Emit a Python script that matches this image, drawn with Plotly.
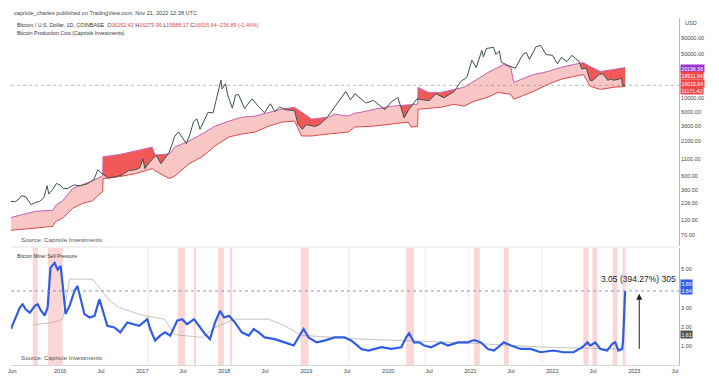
import plotly.graph_objects as go

# ---------------- data ----------------
price_dates = ['2015-05-27','2015-06-15','2015-07-01','2015-07-12','2015-08-01','2015-08-25','2015-09-15',
 '2015-10-01','2015-10-20','2015-11-04','2015-11-11','2015-12-01','2015-12-15','2016-01-01','2016-01-15',
 '2016-02-01','2016-03-01','2016-04-01','2016-05-01','2016-05-31','2016-06-17','2016-07-01','2016-08-02',
 '2016-09-01','2016-10-01','2016-11-01','2016-12-01','2016-12-20','2017-01-04','2017-01-12','2017-02-01',
 '2017-03-03','2017-03-25','2017-04-15','2017-05-01','2017-05-25','2017-06-11','2017-07-16','2017-08-01',
 '2017-08-17','2017-09-01','2017-09-15','2017-10-01','2017-10-20','2017-11-12','2017-12-01','2017-12-17',
 '2017-12-22','2018-01-06','2018-01-17','2018-02-06','2018-02-20','2018-03-05','2018-04-01','2018-05-05',
 '2018-06-01','2018-06-29','2018-07-25','2018-08-14','2018-09-05','2018-10-01','2018-11-10','2018-11-25',
 '2018-12-15','2019-01-01','2019-02-08','2019-03-01','2019-04-02','2019-05-14','2019-06-26','2019-07-17',
 '2019-08-06','2019-09-25','2019-10-26','2019-12-17','2020-01-15','2020-02-13','2020-03-12','2020-04-01',
 '2020-05-08','2020-06-01','2020-07-01','2020-08-01','2020-09-05','2020-10-21','2020-11-20','2020-12-16',
 '2021-01-08','2021-01-27','2021-02-21','2021-02-28','2021-03-13','2021-04-14','2021-04-25','2021-05-10',
 '2021-05-19','2021-06-22','2021-07-20','2021-08-23','2021-09-07','2021-09-21','2021-10-20','2021-11-10',
 '2021-12-04','2022-01-02','2022-01-24','2022-02-10','2022-03-07','2022-03-29','2022-04-30','2022-05-12',
 '2022-06-01','2022-06-18','2022-07-01','2022-07-30','2022-08-14','2022-09-06','2022-09-13','2022-10-01',
 '2022-10-25','2022-11-05','2022-11-09','2022-11-21']
price = [237,235,258,292,280,210,230,237,270,420,310,375,455,430,380,375,430,420,450,530,750,670,550,
 575,615,730,750,800,1120,780,970,1270,930,1180,1420,2500,2950,1930,2720,4300,4750,3250,4350,6000,5900,
 10900,19300,14000,17000,11000,7000,11200,11500,6900,9800,7500,5900,8200,6200,7300,6600,6400,3900,3250,
 3850,3600,3850,4900,7900,12800,9500,11800,8400,9300,6650,8800,10300,4900,6600,9800,9500,9200,11800,
 10200,12800,18600,21300,40000,30400,57000,45000,61000,63500,49000,56000,37000,32500,29800,49500,52500,
 41000,65000,68000,49000,47500,35000,44000,38000,47500,38000,29000,30000,19000,19300,24000,24300,19000,
 20200,19300,20000,21000,16000,16015.64]

cost_dates = ['2015-05-27','2015-06-04','2015-09-15','2015-11-29','2015-12-12','2016-01-12','2016-02-25',
 '2016-04-10','2016-05-24','2016-07-08','2016-07-10','2016-09-21','2016-12-01','2017-02-14','2017-02-27',
 '2017-05-01','2017-05-27','2017-07-28','2017-09-24','2017-11-21','2018-01-22','2018-03-20','2018-05-17',
 '2018-07-18','2018-09-14','2018-11-10','2018-12-11','2019-01-25','2019-04-10','2019-05-07','2019-07-08',
 '2019-08-03','2019-09-03','2019-10-31','2020-01-15','2020-03-30','2020-04-12','2020-05-11','2020-05-13',
 '2020-06-27','2020-08-23','2020-10-20','2020-12-03','2021-01-17','2021-03-20','2021-05-03','2021-05-30',
 '2021-06-30','2021-07-13','2021-08-13','2021-10-10','2021-12-11','2022-02-06','2022-04-05','2022-05-19',
 '2022-06-19','2022-08-03','2022-09-29','2022-11-21']
cost_upper = [130,135,166,172,205,243,380,440,500,600,1200,1300,1500,1700,1280,1330,1710,2130,2740,3650,
 4370,5050,5240,6040,6730,7230,6040,4700,5050,5620,5240,5800,6040,6730,7500,7900,8060,8100,14900,12400,
 12400,13800,14900,18500,25500,30500,34000,30500,17800,19800,23700,26400,30500,34000,36500,31600,26400,
 28400,30500]
cost_lower = [82,84,90,96,115,129,184,221,243,340,543,583,650,778,720,543,600,930,1200,1780,2460,2740,
 2940,3650,4220,4370,2550,2550,2740,2800,2940,3520,3580,3650,3930,4220,3520,3600,6730,7000,7230,8060,
 7500,8980,10400,12400,12000,11550,9650,10700,12900,16500,19800,22000,23700,15400,13800,14900,15400]

msp_dates = ['2015-05-27','2015-06-04','2015-07-05','2015-07-18','2015-07-31','2015-08-19','2015-09-10',
 '2015-09-23','2015-10-07','2015-10-24','2015-11-06','2015-11-19','2015-12-07','2015-12-21','2016-01-03',
 '2016-01-12','2016-01-25','2016-02-12','2016-03-05','2016-03-18','2016-04-01','2016-04-18','2016-05-11',
 '2016-06-02','2016-06-24','2016-07-07','2016-07-29','2016-08-29','2016-09-25','2016-10-26','2016-11-26',
 '2016-12-18','2017-01-23','2017-02-05','2017-02-27','2017-03-21','2017-04-12','2017-05-05','2017-06-05',
 '2017-06-27','2017-07-19','2017-08-19','2017-09-10','2017-10-07','2017-10-29','2017-11-21','2017-12-13',
 '2017-12-31','2018-01-22','2018-02-17','2018-03-20','2018-04-20','2018-05-12','2018-06-03','2018-06-30',
 '2018-08-13','2018-09-27','2018-11-06','2018-12-02','2018-12-20','2019-01-11','2019-02-16','2019-03-23',
 '2019-05-07','2019-06-20','2019-07-21','2019-08-25','2019-09-03','2019-10-05','2019-12-01','2020-01-15',
 '2020-02-28','2020-03-21','2020-04-03','2020-04-25','2020-05-18','2020-06-09','2020-07-10','2020-08-23',
 '2020-09-23','2020-11-07','2020-12-21','2021-01-17','2021-02-17','2021-03-20','2021-04-16','2021-05-30',
 '2021-06-30','2021-08-13','2021-09-26','2021-11-10','2022-01-06','2022-02-19','2022-04-05','2022-05-15',
 '2022-06-06','2022-06-19','2022-07-11','2022-08-03','2022-09-02','2022-09-25','2022-10-08','2022-10-22',
 '2022-11-08','2022-11-12','2022-11-16','2022-11-21']
msp = [1.9,2.12,3.0,3.17,2.91,2.74,3.09,3.17,2.85,2.59,3.0,5.05,5.31,4.96,5.15,4.2,2.66,3.1,3.86,4.11,
 3.51,2.66,2.49,2.57,3.43,2.91,2.06,1.97,1.72,2.23,2.14,2.06,2.4,1.89,1.29,1.55,1.72,1.55,2.32,2.4,2.14,
 2.4,2.06,1.63,1.37,2.23,2.83,2.49,2.57,2.23,1.72,1.55,1.89,1.72,1.46,1.37,1.2,1.04,1.55,1.89,1.46,1.2,
 1.29,1.46,1.46,1.29,0.95,0.86,0.78,0.95,0.86,0.95,1.46,1.67,1.2,1.2,1.04,0.95,1.2,1.04,1.2,1.2,1.32,
 1.2,0.86,0.78,1.2,1.04,0.86,0.86,0.69,0.78,0.69,0.69,0.95,1.2,1.04,1.2,0.86,0.78,1.12,1.2,0.78,0.86,
 1.3,2.4,3.86]

msp_avg_dates = ['2015-09-01','2015-11-29','2016-01-12','2016-02-12','2016-05-24','2016-07-07','2016-08-08',
 '2016-09-21','2017-01-01','2017-04-10','2017-05-25','2017-09-24','2017-11-21','2018-02-17','2018-07-18',
 '2018-09-27','2018-12-11','2019-05-07','2019-08-24','2020-02-28','2021-01-09','2021-12-03','2022-11-05']
msp_avg = [2.11,2.23,2.4,4.47,4.47,3.86,3.36,3.0,2.6,2.4,1.6,1.46,1.97,2.4,2.4,2.06,1.56,1.46,1.37,1.3,
 1.15,0.95,0.85]

band_starts = ['2015-09-01','2015-11-07','2017-06-09','2017-08-19','2017-12-04','2018-01-26','2018-12-07',
 '2020-03-21','2021-01-17','2021-05-30','2022-05-19','2022-06-28','2022-09-26','2022-11-09']
band_ends = ['2015-09-23','2016-01-12','2017-07-11','2017-08-28','2017-12-30','2018-02-04','2019-01-11',
 '2020-04-25','2021-02-12','2021-06-21','2022-06-11','2022-07-20','2022-10-18','2022-11-23']
faint_band_starts = ['2017-01-23','2019-07-05','2020-06-10','2020-12-20','2021-11-14']
faint_band_ends = ['2017-02-01','2019-07-12','2020-06-16','2020-12-27','2021-11-20']

top_ticks = [70,120,226,360,600,1100,2100,3600,6000,10000,50000,90000]
bottom_ticks = [1,2,3,5]
x_tick_dates = ['2015-06-01','2016-01-01','2016-07-01','2017-01-01','2017-07-01','2018-01-01','2018-07-01',
 '2019-01-01','2019-07-01','2020-01-01','2020-07-01','2021-01-01','2021-07-01','2022-01-01','2022-07-01',
 '2023-01-01','2023-07-01']
x_tick_labels = ['Jun','2016','Jul','2017','Jul','2018','Jul','2019','Jul','2020','Jul','2021','Jul','2022',
 'Jul','2023','Jul']
top_last_values = ['20196.56','18911.94','16015.64','11171.42']
bottom_last_values = ['3.86','3.84','1.61']
msp_change_text = '3.05 (394.27%) 305'
measure_from, measure_to = 0.79, 3.72

# ---------------- figure ----------------
W, H = 719, 382
L, R, T, B = 8, 40, 18, 14
PW, PH = W - L - R, H - T - B
def px(xp): return (xp - L) / PW
def py(yp): return (H - B - yp) / PH

FONT = 'Liberation Sans, Arial, sans-serif'
fig = go.Figure()
common = dict(mode='lines', hoverinfo='skip', showlegend=False)
TOP = dict(xaxis='x', yaxis='y')
BOT = dict(xaxis='x2', yaxis='y2')

# pink production-cost band
fig.add_trace(go.Scatter(x=cost_dates, y=cost_lower, line=dict(width=0), **common, **TOP))
fig.add_trace(go.Scatter(x=cost_dates, y=cost_upper, line=dict(width=0), fill='tonexty',
                         fillcolor='#f9c6c6', **common, **TOP))
# red area where price is below cost
fig.add_trace(go.Scatter(x=cost_dates, y=cost_upper, line=dict(width=0), **common, **TOP))
fig.add_trace(go.Scatter(x=price_dates, y=price, line=dict(width=0), fill='tonexty',
                         fillcolor='#f25858', **common, **TOP))
# white cover above the cost
fig.add_trace(go.Scatter(x=cost_dates, y=cost_upper, line=dict(width=0), **common, **TOP))
fig.add_trace(go.Scatter(x=[cost_dates[0], cost_dates[-1]], y=[1e7, 1e7], line=dict(width=0),
                         fill='tonexty', fillcolor='white', **common, **TOP))
# current price line
fig.add_trace(go.Scatter(x=['2015-05-01', '2023-08-01'], y=[price[-1], price[-1]],
                         line=dict(width=1, color='rgba(150,150,150,0.7)', dash='dot'), **common, **TOP))
# cost lines and price
fig.add_trace(go.Scatter(x=cost_dates, y=cost_lower, line=dict(width=1, color='#e04848'), **common, **TOP))
fig.add_trace(go.Scatter(x=cost_dates, y=cost_upper, line=dict(width=1, color='#c264b4'), **common, **TOP))
fig.add_trace(go.Scatter(x=price_dates, y=price, line=dict(width=1, color='#3b5446'), **common, **TOP))

# bottom pane
fig.add_trace(go.Scatter(x=msp_avg_dates, y=msp_avg, line=dict(width=1, color='rgba(170,170,170,0.7)'),
                         **common, **BOT))
fig.add_trace(go.Scatter(x=msp_dates, y=msp, line=dict(width=2.2, color='#2f5de6'), **common, **BOT))

shapes = []
for s, e in zip(band_starts, band_ends):
    shapes.append(dict(type='rect', xref='x2', yref='y2 domain', x0=s, x1=e, y0=0, y1=1,
                       fillcolor='rgba(242,120,120,0.3)', line=dict(width=0), layer='below'))
for s, e in zip(faint_band_starts, faint_band_ends):
    shapes.append(dict(type='rect', xref='x2', yref='y2 domain', x0=s, x1=e, y0=0, y1=1,
                       fillcolor='rgba(242,120,120,0.13)', line=dict(width=0), layer='below'))
shapes.append(dict(type='line', xref='paper', yref='y2', x0=0, x1=1, y0=msp[-1], y1=msp[-1],
                   line=dict(color='#7d95dc', width=1, dash='dot')))
shapes.append(dict(type='line', xref='paper', yref='paper', x0=0, x1=1, y0=py(249), y1=py(249),
                   line=dict(color='#e2e2e2', width=1)))

ann = []
def txt(xp, yp, text, size=5.5, color='#333', anchor='left'):
    ann.append(dict(xref='paper', yref='paper', x=px(xp), y=py(yp), text=text, showarrow=False,
                    xanchor=anchor, yanchor='middle', font=dict(size=size, color=color, family=FONT)))

red = '#e0474c'
txt(9, 13, 'capriole_charles published on TradingView.com, Nov 21, 2022 12:38 UTC', 5.6, '#444')
txt(12, 25, "Bitcoin / U.S. Dollar, 1D, COINBASE  O<span style='color:%s'>16252.42</span> "
    "H<span style='color:%s'>16279.99</span> L<span style='color:%s'>15888.17</span> "
    "C<span style='color:%s'>16015.64</span> <span style='color:%s'>-236.89 (-1.46%%)</span>"
    % (red, red, red, red, red), 5.4, '#333')
txt(12, 33, 'Bitcoin Production Cost (Capriole Investments)', 5.2, '#333')
txt(16, 241, 'Source: Capriole Investments', 6.2, '#555')
txt(12, 258, 'Bitcoin Miner Sell Pressure', 5.0, '#333')
txt(16, 360, 'Source: Capriole Investments', 6.2, '#555')
txt(683, 23, 'USD', 5.5, '#444')

box_cols = ['#9a34cf', '#f04848', '#f04848', '#f04848']
for i, (v, c) in enumerate(zip(top_last_values, box_cols)):
    ann.append(dict(xref='paper', yref='paper', x=px(680), y=py(69 + 7.5 * i), text=v, showarrow=False,
                    xanchor='left', yanchor='middle', bgcolor=c, borderpad=0.5,
                    font=dict(size=5.2, color='white', family=FONT)))
for v, yp, c in zip(bottom_last_values, [286, 292.5, 337], ['#2f5de6', '#2f5de6', '#555555']):
    ann.append(dict(xref='paper', yref='paper', x=px(680), y=py(yp), text=v, showarrow=False,
                    xanchor='left', yanchor='middle', bgcolor=c, borderpad=0.5,
                    font=dict(size=5.2, color='white', family=FONT)))

ann.append(dict(xref='x2', yref='y2', x='2023-01-23', y=measure_to, ax='2023-01-23', ay=measure_from,
                axref='x2', ayref='y2', text='', showarrow=True, arrowhead=2, arrowsize=1.2,
                arrowwidth=1, arrowcolor='#222'))
ann.append(dict(xref='x2', yref='y2', x='2023-01-20', y=4.5, text=msp_change_text, showarrow=False,
                xanchor='center', yanchor='middle', font=dict(size=8.5, color='#222', family=FONT)))

axis_font = dict(size=5.5, color='#444', family=FONT)
fig.update_layout(
    width=W, height=H, margin=dict(l=L, r=R, t=T, b=B),
    paper_bgcolor='white', plot_bgcolor='white', showlegend=False,
    shapes=shapes, annotations=ann,
    xaxis=dict(domain=[0, 1], anchor='y', matches='x2', showticklabels=False, showgrid=False,
               zeroline=False, showline=False, range=['2015-05-27', '2023-07-19']),
    yaxis=dict(domain=[py(248), 1], anchor='x', side='right', type='log',
               range=[1.672, 5.2656], tickvals=top_ticks,
               ticktext=['%.2f' % v for v in top_ticks], tickfont=axis_font, showgrid=False,
               zeroline=False, showline=True, linecolor='#b8b8b8', linewidth=1, ticks=''),
    xaxis2=dict(domain=[0, 1], anchor='y2', range=['2015-05-27', '2023-07-19'], tickvals=x_tick_dates,
                ticktext=x_tick_labels, tickfont=axis_font, showgrid=False, zeroline=False,
                showline=True, linecolor='#d8d8d8', ticks='', tickangle=0),
    yaxis2=dict(domain=[0, py(250)], anchor='x2', side='right', range=[0.03, 6.08],
                tickvals=bottom_ticks, ticktext=['%.2f' % v for v in bottom_ticks], tickfont=axis_font,
                showgrid=False, zeroline=False, showline=True, linecolor='#b8b8b8', linewidth=1,
                ticks=''),
    font=dict(family=FONT),
)
fig.write_html('out.html', config={'displayModeBar': False},
               post_script="document.body.style.margin='0';")
